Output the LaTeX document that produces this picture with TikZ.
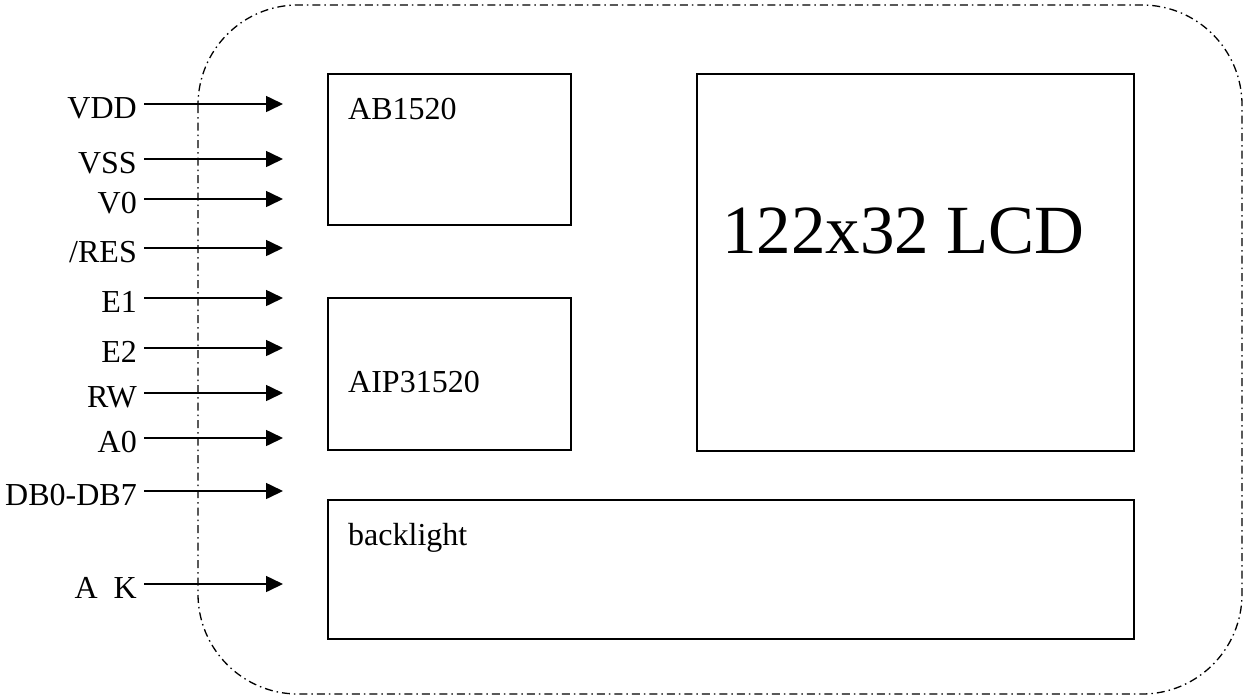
\documentclass[tikz,border=0pt]{standalone}
\usepackage{fontspec}
\setmainfont{Liberation Serif}
\usetikzlibrary{arrows.meta}
\begin{document}
\begin{tikzpicture}[x=1pt,y=-1pt,
  box/.style={draw,line width=1.8pt,inner sep=0pt,anchor=north west},
  pin/.style={anchor=east,font=\fontsize{32}{36}\selectfont,text height=28pt,text depth=0pt,inner xsep=7pt,inner ysep=0pt},
  sig/.style={line width=1.6pt,-{Triangle[length=17pt,width=16pt]}},
  btext/.style={anchor=base west,inner sep=0pt,font=\fontsize{32}{36}\selectfont},
  outline/.style={line width=1.3pt,rounded corners=100pt,dash pattern=on 8pt off 4pt on 1.5pt off 4pt}]
\useasboundingbox (0,0) rectangle (1245,697);
% outer dash-dot outline
\draw[outline] (198,5) rectangle (1242,694);
% blocks
\node[box,minimum width=243pt,minimum height=151pt] (ab) at (327,73) {};
\node[box,minimum width=243pt,minimum height=152pt] (aip) at (327,297) {};
\node[box,minimum width=437pt,minimum height=377pt] (lcd) at (696,73) {};
\node[box,minimum width=806pt,minimum height=139pt] (bl) at (327,499) {};
\node[btext] (abt) at (348,119) {AB1520};
\node[btext] (aipt) at (348,392) {AIP31520};
\node[btext] (blt) at (348,545) {backlight};
\node[anchor=base west,inner sep=0pt,font=\fontsize{69}{75}\selectfont] (lcdt) at (722,253) {122x32 LCD};
% signals
\foreach \n/\t/\y in {vdd/VDD/104, vss/VSS/159, vz/V0/199, res/{/RES}/248, eone/E1/298, etwo/E2/348, rw/RW/393, az/A0/438, db/DB0-DB7/491, ak/{A\ \ K}/584}{
  \node[pin] (\n) at (144,\y) {\t};
  \coordinate (\n tip) at (283,\y);
  \draw[sig] (\n.east) -- (\n tip);
}
\end{tikzpicture}
\end{document}
